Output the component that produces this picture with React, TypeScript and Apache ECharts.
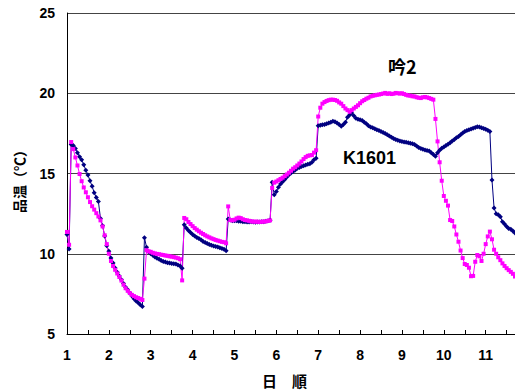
import React, { useEffect, useRef } from "react";
import * as echarts from "echarts";

// time axis: samples every 0.05 day starting at day 1
const T_START = 1;
const T_STEP = 0.05;

const xTickLabels = ["1", "2", "3", "4", "5", "6", "7", "8", "9", "10", "11"];
const yTickLabels = ["5", "10", "15", "20", "25"];

// K1601 (navy)
const k1601 = [
  // day 1
  11.2, 10.3, 16.8, 16.75, 16.55, 16.3, 16.05, 15.85, 15.55, 15.2, 14.9, 14.55, 14.2, 13.8, 13.5, 13.25, 12.2, 11.75, 11.1, 10.5,
  // day 2
  10.15, 9.73, 9.42, 9.11, 8.85, 8.62, 8.38, 8.15, 7.92, 7.76, 7.55, 7.37, 7.2, 7.05, 6.94, 6.82, 6.72, 11.0, 10.4, 10.12,
  // day 3
  10.0, 9.9, 9.8, 9.72, 9.65, 9.58, 9.52, 9.48, 9.44, 9.42, 9.4, 9.37, 9.36, 9.3, 9.24, 9.1, 11.8, 11.6, 11.45, 11.33,
  // day 4
  11.2, 11.1, 11.02, 10.95, 10.87, 10.77, 10.7, 10.64, 10.57, 10.53, 10.49, 10.45, 10.42, 10.38, 10.33, 10.28, 10.18, 12.16, 12.1, 12.05,
  // day 5
  12.05, 12.05, 12.02, 12.03, 12.0, 12.0, 11.98, 11.98, 12.0, 11.98, 11.97, 11.98, 11.98, 12.0, 12.0, 12.02, 12.05, 12.08, 14.45, 13.68,
  // day 6
  13.88, 14.15, 14.35, 14.48, 14.63, 14.78, 14.92, 15.03, 15.13, 15.22, 15.32, 15.37, 15.43, 15.48, 15.53, 15.57, 15.6, 15.7, 15.85, 15.95,
  // day 7
  17.97, 18.0, 18.03, 18.06, 18.1, 18.15, 18.2, 18.25, 18.22, 18.15, 18.05, 17.95, 18.05, 18.2, 18.5, 18.65, 18.77, 18.6, 18.45, 18.38,
  // day 8
  18.35, 18.3, 18.2, 18.1, 17.98, 17.9, 17.85, 17.79, 17.73, 17.68, 17.62, 17.56, 17.5, 17.42, 17.33, 17.26, 17.18, 17.12, 17.07, 17.03,
  // day 9
  17.0, 16.97, 16.94, 16.91, 16.89, 16.85, 16.8, 16.72, 16.62, 16.56, 16.51, 16.47, 16.43, 16.4, 16.3, 16.18, 16.07, 16.3, 16.45, 16.58,
  // day 10
  16.65, 16.75, 16.83, 16.92, 17.02, 17.12, 17.22, 17.31, 17.42, 17.52, 17.62, 17.68, 17.72, 17.77, 17.82, 17.87, 17.92, 17.9, 17.85, 17.8,
  // day 11
  17.75, 17.7, 17.62, 14.6, 12.85, 12.5, 12.43, 12.3, 12.0, 11.85, 11.7, 11.58, 11.52, 11.42, 11.3,
];

// 吟2 (magenta)
const gin2 = [
  // day 1
  11.36, 10.56, 16.96, 16.52, 16.0, 15.5, 14.97, 14.52, 14.13, 13.83, 13.52, 13.22, 12.96, 12.75, 12.53, 12.32, 12.08, 11.7, 11.15, 10.6,
  // day 2
  10.0, 9.55, 9.24, 9.0, 8.77, 8.55, 8.33, 8.07, 7.85, 7.69, 7.55, 7.44, 7.36, 7.29, 7.24, 7.19, 7.12, 8.45, 10.22, 10.15,
  // day 3
  10.12, 10.06, 10.02, 9.99, 9.97, 9.94, 9.92, 9.89, 9.87, 9.84, 9.82, 9.79, 9.76, 9.72, 9.66, 8.34, 12.23, 12.15, 11.98, 11.85,
  // day 4
  11.72, 11.6, 11.5, 11.4, 11.31, 11.23, 11.15, 11.08, 11.02, 10.96, 10.91, 10.86, 10.82, 10.78, 10.74, 10.72, 10.65, 12.95, 12.1, 12.08,
  // day 5
  12.12, 12.2, 12.25, 12.22, 12.15, 12.1, 12.08, 12.05, 12.02, 12.0, 12.0, 12.0, 11.98, 12.0, 12.0, 12.02, 12.05, 12.08, 14.1, 14.43,
  // day 6
  14.5, 14.58, 14.66, 14.74, 14.84, 14.94, 15.05, 15.17, 15.3, 15.39, 15.5, 15.62, 15.75, 15.9, 16.02, 16.1, 16.13, 16.15, 16.3, 16.45,
  // day 7
  18.55, 19.1, 19.35, 19.45, 19.52, 19.57, 19.6, 19.6, 19.58, 19.53, 19.43, 19.35, 19.2, 19.05, 18.95, 18.85, 18.95, 19.05, 19.15, 19.25,
  // day 8
  19.38, 19.5, 19.58, 19.66, 19.72, 19.8, 19.84, 19.87, 19.9, 19.92, 19.95, 19.98, 20.02, 19.96, 20.0, 19.95, 19.97, 20.02, 20.0, 19.98,
  // day 9
  20.0, 19.95, 19.9, 19.86, 19.85, 19.81, 19.8, 19.75, 19.72, 19.7, 19.75, 19.77, 19.74, 19.7, 19.65, 19.6, 18.4, 17.0, 15.7, 14.55,
  // day 10
  13.6, 13.3, 13.0, 12.1, 12.04, 11.7, 11.2, 10.75, 10.2, 9.73, 9.36, 9.3, 9.13, 8.6, 8.62, 9.5, 9.92, 9.84, 9.55, 10.0,
  // day 11
  10.6, 11.08, 11.38, 10.9, 10.25, 10.0, 9.78, 9.6, 9.4, 9.24, 9.1, 8.98, 8.87, 8.75, 8.58,
];

const toPairs = (vals: number[]) =>
  vals.map((v, i) => [+(T_START + i * T_STEP).toFixed(3), v]);

const FONT = "'Liberation Sans', Arial, sans-serif";
const CJK = "'Noto Sans CJK JP', 'Liberation Sans', sans-serif";

export default function App() {
  const ref = useRef<HTMLDivElement>(null);
  useEffect(() => {
    if (!ref.current) return;
    const chart = echarts.init(ref.current, undefined, { renderer: "svg" });
    chart.setOption({
      animation: false,
      backgroundColor: "#ffffff",
      grid: { left: 67, right: 0, top: 13, bottom: 57, containLabel: false },
      xAxis: {
        type: "value",
        min: 1,
        max: 11.7,
        interval: 0.5,
        axisLine: { show: true, lineStyle: { color: "#000", width: 1 } },
        axisTick: { show: true, inside: true, length: 4, lineStyle: { color: "#000" } },
        splitLine: { show: false },
        axisLabel: {
          color: "#000",
          fontFamily: FONT,
          fontWeight: "bold",
          fontSize: 14,
          margin: 14,
          showMaxLabel: false,
          formatter: (v: number) => {
            const s = String(v);
            return xTickLabels.includes(s) ? s : "";
          },
        },
      },
      yAxis: {
        type: "value",
        min: 5,
        max: 25,
        interval: 5,
        axisLine: { show: true, lineStyle: { color: "#000", width: 1 } },
        axisTick: { show: false },
        splitLine: { show: true, lineStyle: { color: "#444", width: 1 } },
        axisLabel: {
          color: "#000",
          fontFamily: FONT,
          fontWeight: "bold",
          fontSize: 14,
          margin: 12,
          formatter: (v: number) => {
            const s = String(v);
            return yTickLabels.includes(s) ? s : "";
          },
        },
      },
      series: [
        {
          name: "K1601",
          type: "line",
          data: toPairs(k1601),
          symbol: "diamond",
          symbolSize: 5,
          showAllSymbol: true,
          lineStyle: { color: "#000080", width: 1 },
          itemStyle: { color: "#000080", borderWidth: 0 },
        },
        {
          name: "吟2",
          type: "line",
          data: toPairs(gin2),
          symbol: "rect",
          symbolSize: 4,
          showAllSymbol: true,
          lineStyle: { color: "#ff00ff", width: 1 },
          itemStyle: { color: "#ff00ff", borderWidth: 0 },
        },
      ],
      graphic: [
        {
          type: "text",
          left: 388,
          top: 57,
          style: { text: "吟2", fill: "#000", font: `bold 18px ${CJK}` },
        },
        {
          type: "text",
          left: 343,
          top: 149,
          style: { text: "K1601", fill: "#000", font: `bold 18px ${FONT}` },
        },
        {
          type: "text",
          left: 262,
          top: 373,
          style: { text: "日　順", fill: "#000", font: `bold 15px ${CJK}` },
        },
        {
          type: "text",
          left: 12,
          top: 143,
          style: { text: "品温（℃）", fill: "#000", font: `bold 14px ${CJK}` },
          rotation: Math.PI / 2,
        },
      ],
    });
    return () => chart.dispose();
  }, []);
  return (
    <div
      ref={ref}
      style={{ position: "fixed", left: 0, top: 0, width: 515, height: 391, background: "#fff" }}
    />
  );
}
